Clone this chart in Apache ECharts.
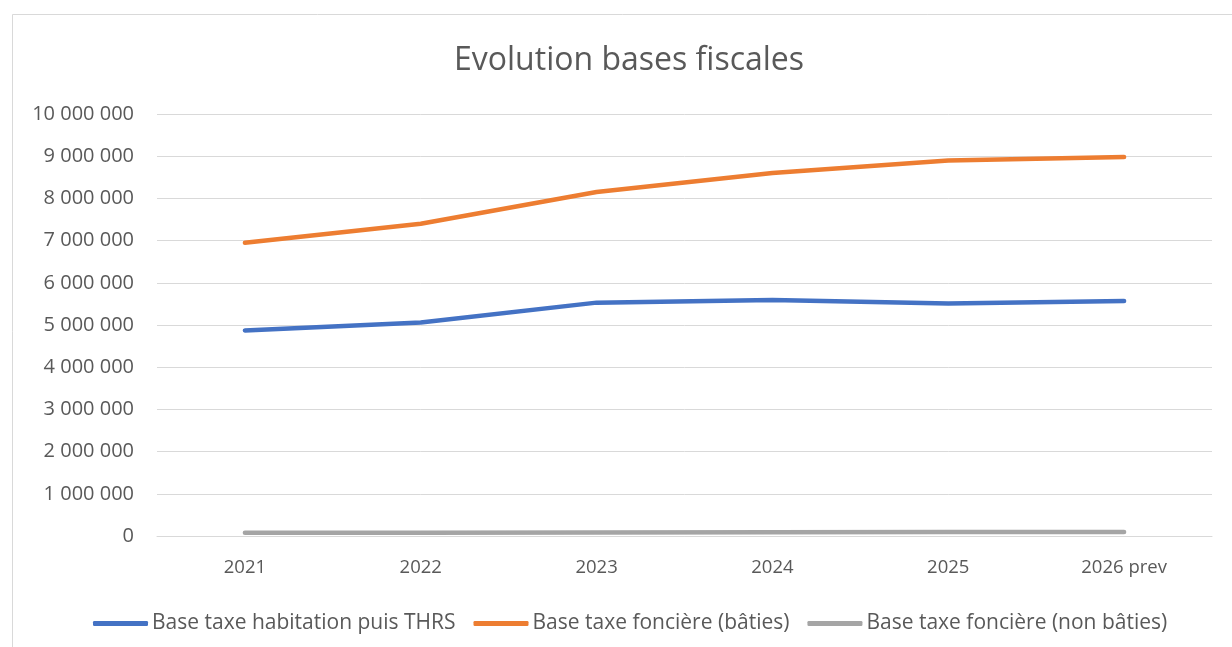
<!DOCTYPE html>
<html>
<head>
<meta charset="utf-8">
<script src="https://cdn.jsdelivr.net/npm/echarts@6/dist/echarts.min.js"></script>
<style>
html,body{margin:0;padding:0;background:#fff;}
#chart{width:1232px;height:647px;}
</style>
</head>
<body>
<div id="chart"></div>
<script>
const categories = ['2021', '2022', '2023', '2024', '2025', '2026 prev'];
const seriesNames = ['Base taxe habitation puis THRS', 'Base taxe foncière (bâties)', 'Base taxe foncière (non bâties)'];
const habitation = [4870000, 5060000, 5530000, 5590000, 5510000, 5570000];
const foncBaties = [6950000, 7400000, 8150000, 8600000, 8900000, 8980000];
const foncNonBaties = [75000, 78000, 82000, 88000, 92000, 95000];
const colors = ['#4472C4', '#ED7D31', '#A5A5A5'];
const font = '"Open Sans", "Noto Sans", sans-serif';

const chart = echarts.init(document.getElementById('chart'));
const fmt = v => String(v).replace(/\B(?=(\d{3})+(?!\d))/g, ' ');
const mk = (name, data, color) => ({
  name, type: 'line', data, symbol: 'none', smooth: false,
  lineStyle: { width: 4.5, color, cap: 'round', join: 'round' },
  itemStyle: { color }
});
chart.setOption({
  backgroundColor: '#fff',
  animation: false,
  graphic: [{
    type: 'rect', shape: { x: 12.5, y: 14.5, width: 1260, height: 700 },
    style: { fill: 'none', stroke: '#D9D9D9', lineWidth: 1 }, silent: true
  }],
  title: {
    text: 'Evolution bases fiscales', left: 449, top: 40,
    textStyle: { fontFamily: font, fontSize: 32, fontWeight: 'normal', color: '#595959' }
  },
  legend: {
    top: 608, left: 88, itemWidth: 55, itemHeight: 5, itemGap: 18,
    icon: 'roundRect',
    textStyle: { fontFamily: font, fontSize: 21, color: '#595959', padding: [0, 0, 0, -1] },
    data: seriesNames
  },
  grid: { left: 157, right: 20, top: 114, bottom: 111, containLabel: false },
  xAxis: {
    type: 'category', data: categories, boundaryGap: true,
    axisLine: { show: true, lineStyle: { color: '#D9D9D9', width: 1 } },
    axisTick: { show: false },
    axisLabel: { fontFamily: font, fontSize: 18.5, color: '#595959', margin: 22 }
  },
  yAxis: {
    type: 'value', min: 0, max: 10000000, interval: 1000000,
    axisLine: { show: false }, axisTick: { show: false },
    splitLine: { lineStyle: { color: '#D9D9D9', width: 1 } },
    axisLabel: { fontFamily: font, fontSize: 20, color: '#595959', margin: 23, formatter: fmt }
  },
  series: [
    mk(seriesNames[0], habitation, colors[0]),
    mk(seriesNames[1], foncBaties, colors[1]),
    mk(seriesNames[2], foncNonBaties, colors[2])
  ]
});
</script>
</body>
</html>
